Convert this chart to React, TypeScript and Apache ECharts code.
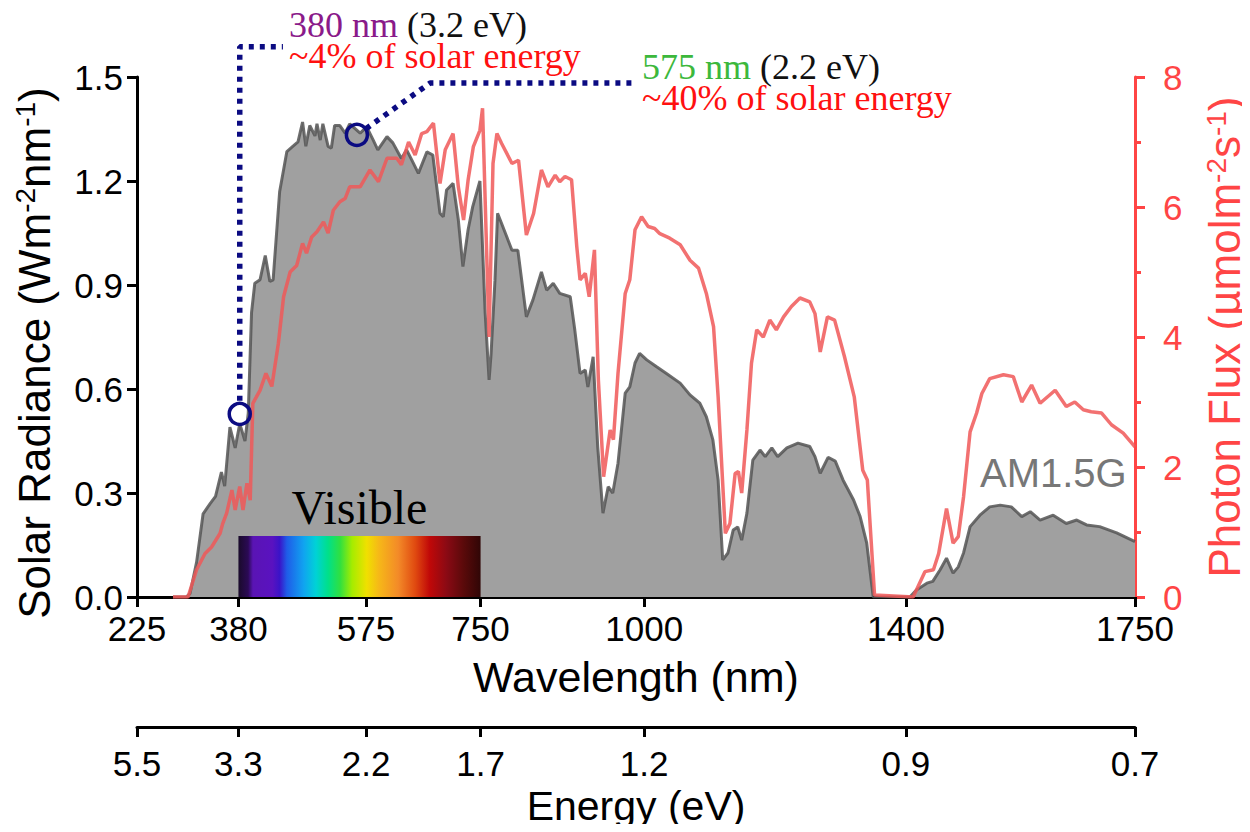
import { useEffect, useRef } from "react";
import * as echarts from "echarts";

// ---------- data ----------
const wavelengthTicks = [225, 380, 575, 750, 1000, 1400, 1750];
const energyTickLabels = ["5.5", "3.3", "2.2", "1.7", "1.2", "0.9", "0.7"];

// AM1.5G spectral irradiance (W m^-2 nm^-1) vs wavelength (nm)
const radiance: [number, number][] = [
  [280, 0], [300, 0], [306, 0.01], [316, 0.1], [326, 0.24], [337, 0.27], [345, 0.29], [354, 0.36],
  [359, 0.32], [367, 0.49], [375, 0.43], [382, 0.5], [390, 0.45], [395, 0.53], [400, 0.82],
  [405, 0.905], [413, 0.915], [421, 0.985], [428, 0.91], [433, 0.915], [443, 1.17], [454, 1.285],
  [463, 1.3], [471, 1.313], [478, 1.37], [483, 1.3], [489, 1.36], [497, 1.33], [500, 1.365],
  [505, 1.318], [509, 1.365], [517, 1.3], [522, 1.295], [527, 1.36], [535, 1.36], [543, 1.338],
  [550, 1.365], [566, 1.338], [576, 1.356], [586, 1.318], [593, 1.29], [607, 1.328], [616, 1.31],
  [629, 1.265], [637, 1.29], [645, 1.26], [655, 1.222], [668, 1.284], [677, 1.275], [688, 1.107],
  [693, 1.097], [698, 1.174], [708, 1.193], [716, 1.088], [723, 0.953], [731, 1.06], [738, 1.126],
  [749, 1.2], [757, 0.82], [763, 0.626], [766, 0.7], [772, 0.914], [776, 1.107], [782, 1.078],
  [798, 1.0], [807, 1.0], [820, 0.808], [830, 0.857], [843, 0.938], [851, 0.885], [861, 0.905],
  [871, 0.876], [887, 0.866], [894, 0.77], [902, 0.645], [910, 0.655], [914, 0.606], [922, 0.693],
  [929, 0.433], [937, 0.242], [945, 0.318], [952, 0.3], [960, 0.386], [971, 0.588], [978, 0.606],
  [986, 0.675], [993, 0.703], [1004, 0.684], [1019, 0.664], [1034, 0.645], [1055, 0.617],
  [1070, 0.583], [1085, 0.559], [1095, 0.52], [1105, 0.453], [1113, 0.337], [1120, 0.107],
  [1128, 0.127], [1136, 0.193], [1143, 0.202], [1149, 0.164], [1157, 0.242], [1166, 0.395],
  [1177, 0.424], [1185, 0.405], [1195, 0.43], [1204, 0.405], [1218, 0.43], [1235, 0.444],
  [1253, 0.434], [1261, 0.405], [1269, 0.357], [1281, 0.403], [1292, 0.392], [1304, 0.337],
  [1320, 0.28], [1330, 0.232], [1340, 0.156], [1350, 0], [1406, 0], [1416, 0.02], [1432, 0.04],
  [1441, 0.045], [1452, 0.078], [1462, 0.112], [1472, 0.069], [1480, 0.087], [1488, 0.127],
  [1498, 0.203], [1513, 0.236], [1528, 0.26], [1544, 0.265], [1561, 0.26], [1577, 0.232],
  [1590, 0.246], [1605, 0.222], [1625, 0.236], [1645, 0.212], [1661, 0.222], [1676, 0.208],
  [1696, 0.203], [1722, 0.185], [1750, 0.16],
];

// Photon flux (µmol m^-2 s^-1) vs wavelength (nm)
const photonFlux: [number, number][] = [
  [280, 0], [303, 0], [316, 0.42], [329, 0.67], [339, 0.77], [352, 0.98], [356, 1.13], [362, 1.29],
  [370, 1.645], [375, 1.34], [382, 1.7], [387, 1.34], [393, 1.75], [398, 1.49], [402, 2.98],
  [413, 3.18], [422, 3.44], [431, 3.24], [441, 3.9], [449, 4.62], [459, 5.0], [469, 5.1],
  [478, 5.44], [484, 5.29], [492, 5.54], [500, 5.62], [510, 5.77], [517, 5.6], [525, 5.95],
  [535, 6.08], [543, 6.13], [550, 6.31], [566, 6.31], [581, 6.57], [594, 6.39], [607, 6.75],
  [622, 6.75], [629, 6.65], [640, 7.0], [650, 6.8], [660, 7.13], [668, 7.16], [678, 7.29],
  [688, 6.36], [696, 6.88], [708, 7.13], [716, 6.31], [724, 5.8], [731, 6.42], [739, 6.93],
  [749, 7.18], [753, 7.52], [763, 4.0], [769, 6.67], [775, 7.13], [782, 6.98], [798, 6.67],
  [808, 6.72], [820, 5.57], [831, 5.9], [843, 6.57], [853, 6.31], [864, 6.49], [871, 6.39],
  [879, 6.47], [889, 6.42], [897, 5.39], [902, 4.88], [910, 4.98], [916, 4.62], [924, 5.34],
  [930, 3.34], [938, 1.85], [948, 2.57], [953, 2.42], [960, 3.44], [971, 4.67], [978, 4.88],
  [986, 5.65], [996, 5.85], [1006, 5.7], [1016, 5.67], [1024, 5.59], [1039, 5.52], [1055, 5.42],
  [1070, 5.18], [1083, 5.06], [1095, 4.67], [1106, 4.16], [1113, 3.08], [1124, 0.98],
  [1131, 1.13], [1139, 1.9], [1144, 1.93], [1149, 1.6], [1157, 2.57], [1164, 3.6], [1172, 4.11],
  [1182, 4.0], [1192, 4.26], [1202, 4.11], [1213, 4.31], [1225, 4.47], [1238, 4.6], [1253, 4.54],
  [1261, 4.36], [1269, 3.77], [1280, 4.31], [1291, 4.26], [1306, 3.7], [1321, 3.08], [1334, 1.95],
  [1341, 1.8], [1352, 0.03], [1411, 0], [1429, 0.39], [1442, 0.42], [1450, 0.67], [1462, 1.36],
  [1472, 0.83], [1480, 0.93], [1488, 1.54], [1498, 2.54], [1508, 2.83], [1516, 3.13], [1528, 3.36],
  [1549, 3.42], [1564, 3.39], [1577, 3.0], [1592, 3.26], [1605, 2.98], [1628, 3.18], [1645, 2.93],
  [1658, 3.0], [1671, 2.88], [1683, 2.85], [1699, 2.83], [1714, 2.65], [1732, 2.52], [1750, 2.31],
];

const markedPoints: [number, number][] = [[382, 0.528], [561, 1.333]];
const leader380: [number, number][] = [[382, 0.566], [382, 1.587], [448, 1.587]];
const leader575: [number, number][] = [[575, 1.351], [673, 1.483], [988, 1.483]];
const visibleBand: [number, number] = [380, 750];
const visibleBandHeight = 0.176;

const SANS = "'Liberation Sans', Arial, sans-serif";
const SERIF = "'Liberation Serif', 'Times New Roman', serif";
const RED_AXIS = "#ff4545";
const NAVY = "#0b0b82";
const TICK_SIZE = 35;

export default function App() {
  const ref = useRef<HTMLDivElement>(null);

  useEffect(() => {
    if (!ref.current) return;
    const chart = echarts.init(ref.current, undefined, { renderer: "svg" });

    const spectrum = new echarts.graphic.LinearGradient(0, 0, 1, 0, [
      { offset: 0, color: "#1a0b2b" },
      { offset: 0.04, color: "#2b0a55" },
      { offset: 0.06, color: "#5a14b4" },
      { offset: 0.14, color: "#5a12c0" },
      { offset: 0.17, color: "#3a14c8" },
      { offset: 0.2, color: "#1f5ce8" },
      { offset: 0.27, color: "#10a4f0" },
      { offset: 0.32, color: "#00d2d6" },
      { offset: 0.37, color: "#00e08a" },
      { offset: 0.42, color: "#30e040" },
      { offset: 0.47, color: "#a6ec00" },
      { offset: 0.53, color: "#f0e000" },
      { offset: 0.58, color: "#f6b818" },
      { offset: 0.66, color: "#f38a28" },
      { offset: 0.73, color: "#e04a10" },
      { offset: 0.79, color: "#c00808" },
      { offset: 0.86, color: "#8a0a14" },
      { offset: 0.93, color: "#5a0a0a" },
      { offset: 1, color: "#300606" },
    ]);

    const annRich = (main: string) => ({
      c: { fontSize: 36, lineHeight: 31, fontFamily: SERIF, fill: main, color: main },
      k: { fontSize: 36, lineHeight: 31, fontFamily: SERIF, fill: "#111", color: "#111" },
      r: { fontSize: 36, lineHeight: 31, fontFamily: SERIF, fill: "#ff1010", color: "#ff1010" },
    });

    chart.setOption({
      animation: false,
      backgroundColor: "#ffffff",
      grid: [
        { left: 137, right: 115, top: 77, bottom: 235, outerBoundsMode: "none", containLabel: false },
        { left: 137, right: 115, top: 700, bottom: 105, outerBoundsMode: "none", containLabel: false },
      ],
      xAxis: [
        {
          type: "value",
          gridIndex: 0,
          min: 225,
          max: 1750,
          name: "Wavelength (nm)",
          nameLocation: "middle",
          nameGap: 58,
          nameTextStyle: { fontSize: 43, color: "#000", fontFamily: SANS },
          axisLine: { show: true, onZero: false, lineStyle: { color: "#000", width: 3 } },
          axisTick: { show: true, customValues: wavelengthTicks, length: 10, lineStyle: { color: "#000", width: 3 } },
          axisLabel: {
            customValues: wavelengthTicks,
            formatter: (v: number) => String(Math.round(v)),
            fontSize: TICK_SIZE,
            color: "#000",
            fontFamily: SANS,
            margin: 14,
            hideOverlap: false,
          },
          splitLine: { show: false },
        },
        {
          type: "value",
          gridIndex: 1,
          min: 225,
          max: 1750,
          name: "Energy (eV)",
          nameLocation: "middle",
          nameGap: 58,
          nameTextStyle: { fontSize: 41, color: "#000", fontFamily: SANS },
          axisLine: { show: true, onZero: false, lineStyle: { color: "#000", width: 3 } },
          axisTick: { show: true, customValues: wavelengthTicks, length: 10, lineStyle: { color: "#000", width: 3 } },
          axisLabel: {
            customValues: wavelengthTicks,
            formatter: (v: number) => energyTickLabels[wavelengthTicks.indexOf(Math.round(v))] ?? "",
            fontSize: TICK_SIZE,
            color: "#000",
            fontFamily: SANS,
            margin: 19,
            hideOverlap: false,
          },
          splitLine: { show: false },
        },
      ],
      yAxis: [
        {
          type: "value",
          gridIndex: 0,
          min: 0,
          max: 1.5,
          interval: 0.3,
          name: "{n|Solar Radiance (Wm}{sup|-2}{n|nm}{sup|-1}{n|)}",
          nameLocation: "middle",
          nameRotate: 90,
          nameGap: 80,
          nameTextStyle: {
            color: "#000",
            fontFamily: SANS,
            padding: [0, 32, 0, 0],
            rich: {
              n: { fontSize: 44, lineHeight: 46, color: "#000", fontFamily: SANS },
              sup: { fontSize: 28, lineHeight: 46, verticalAlign: "top", color: "#000", fontFamily: SANS },
            },
          },
          axisLine: { show: true, onZero: false, lineStyle: { color: "#000", width: 3 } },
          axisTick: { show: true, length: 10, lineStyle: { color: "#000", width: 3 } },
          axisLabel: {
            fontSize: TICK_SIZE,
            color: "#000",
            fontFamily: SANS,
            margin: 14,
            formatter: (v: number) => v.toFixed(1),
          },
          splitLine: { show: false },
        },
        {
          type: "value",
          gridIndex: 0,
          position: "right",
          min: 0,
          max: 8,
          interval: 2,
          name: "{n|Photon Flux (µmolm}{sup|-2}{n|s}{sup|-1}{n|)}",
          nameLocation: "middle",
          nameRotate: 90,
          nameGap: 67,
          nameTextStyle: {
            color: RED_AXIS,
            fontFamily: SANS,
            rich: {
              n: { fontSize: 44, lineHeight: 44, color: RED_AXIS, fontFamily: SANS },
              sup: { fontSize: 28, lineHeight: 44, verticalAlign: "top", color: RED_AXIS, fontFamily: SANS },
            },
          },
          axisLine: { show: true, onZero: false, lineStyle: { color: RED_AXIS, width: 3 } },
          axisTick: { show: true, length: 10, lineStyle: { color: RED_AXIS, width: 3 } },
          minorTick: { show: true, splitNumber: 2, length: 6, lineStyle: { color: RED_AXIS, width: 3 } },
          axisLabel: { fontSize: TICK_SIZE, color: RED_AXIS, fontFamily: SANS, margin: 28 },
          splitLine: { show: false },
          minorSplitLine: { show: false },
        },
        {
          type: "value",
          gridIndex: 1,
          show: false,
          min: 0,
          max: 1,
        },
      ],
      graphic: [
        {
          type: "text",
          x: 289,
          y: 9,
          style: {
            text: "{c|380 nm }{k|(3.2 eV)}\n{r|~4% of solar energy}",
            verticalAlign: "top",
            rich: annRich("#8a1a8a"),
          },
          z: 100,
        },
        {
          type: "text",
          x: 642,
          y: 51,
          style: {
            text: "{c|575 nm }{k|(2.2 eV)}\n{r|~40% of solar energy}",
            verticalAlign: "top",
            rich: annRich("#3cb83c"),
          },
          z: 100,
        },
        {
          type: "text",
          x: 980,
          y: 473,
          style: {
            text: "AM1.5G",
            fontSize: 40,
            fontFamily: SANS,
            fill: "#777777",
            verticalAlign: "middle",
          },
          z: 100,
        },
      ],
      series: [
        {
          name: "AM1.5G",
          type: "line",
          xAxisIndex: 0,
          yAxisIndex: 0,
          data: radiance,
          symbol: "none",
          smooth: false,
          lineStyle: { color: "rgba(85,85,85,0.85)", width: 3 },
          areaStyle: { color: "#a0a0a0", opacity: 1 },
          z: 2,
        },
        {
          name: "Photon flux",
          type: "line",
          xAxisIndex: 0,
          yAxisIndex: 1,
          data: photonFlux,
          symbol: "none",
          smooth: false,
          lineStyle: { color: "rgba(240,88,88,0.85)", width: 3.5 },
          z: 3,
        },
        {
          name: "leader380",
          type: "line",
          xAxisIndex: 0,
          yAxisIndex: 0,
          data: leader380,
          symbol: "none",
          clip: false,
          silent: true,
          lineStyle: { color: NAVY, width: 5.5, type: [5, 6], cap: "butt" },
          z: 5,
        },
        {
          name: "leader575",
          type: "line",
          xAxisIndex: 0,
          yAxisIndex: 0,
          data: leader575,
          symbol: "none",
          clip: false,
          silent: true,
          lineStyle: { color: NAVY, width: 5.5, type: [5, 6], cap: "butt" },
          z: 5,
        },
        {
          name: "marks",
          type: "scatter",
          xAxisIndex: 0,
          yAxisIndex: 0,
          data: markedPoints,
          symbol: "circle",
          symbolSize: 21,
          silent: true,
          itemStyle: { color: "rgba(0,0,0,0)", borderColor: NAVY, borderWidth: 3.5, opacity: 1 },
          markArea: {
            silent: true,
            z: 10,
            itemStyle: { color: spectrum, opacity: 1 },
            label: {
              show: true,
              position: "top",
              distance: 4,
              formatter: "Visible",
              fontSize: 48,
              fontFamily: SERIF,
              color: "#000",
            },
            data: [[{ coord: [visibleBand[0], 0] }, { coord: [visibleBand[1], visibleBandHeight] }]],
          },
          z: 6,
        },
      ],
    });

    return () => chart.dispose();
  }, []);

  return <div ref={ref} style={{ width: 1250, height: 832, margin: -8 }} />;
}
